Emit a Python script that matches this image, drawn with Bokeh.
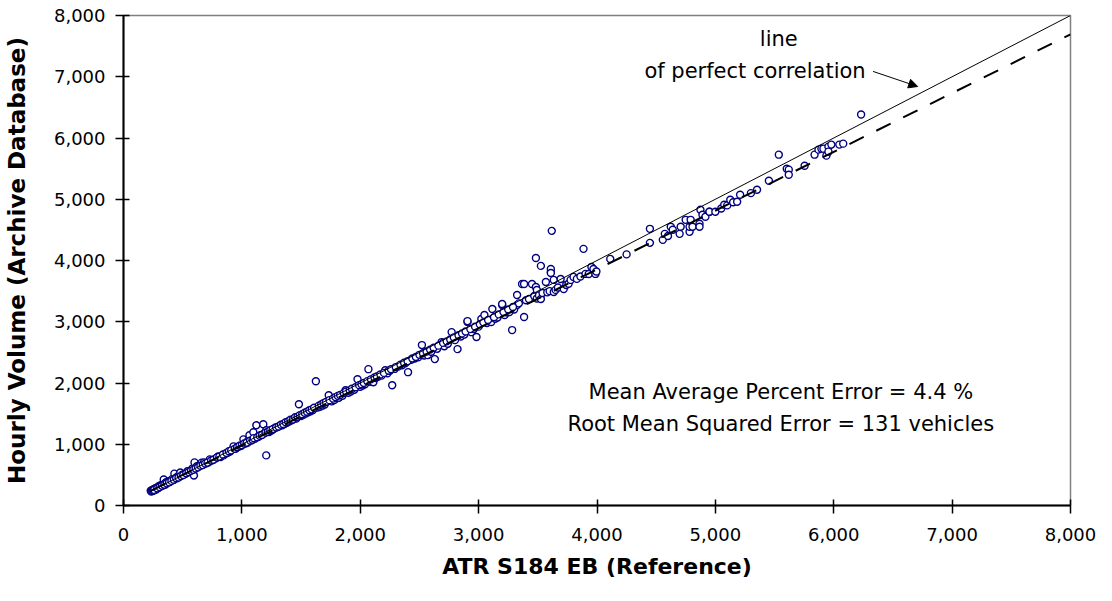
from bokeh.plotting import figure
from bokeh.models import Range1d, FixedTicker, NumeralTickFormatter, Label, Arrow, NormalHead, ColumnDataSource
from bokeh.embed import file_html
from bokeh.resources import INLINE

# ---------------- data ----------------
ref_x = [
    230, 235, 240, 245, 250, 255, 260, 265, 270, 275, 280, 290, 295, 300, 310, 315, 320, 330, 335, 340,
    350, 355, 360, 370, 380, 390, 400, 410, 420, 430, 440, 450, 460, 470, 480, 490, 500, 520, 540, 560,
    580, 595, 600, 620, 640, 660, 680, 700,
    720, 729, 750, 780, 800, 820, 846, 860, 880, 900, 930, 950, 970, 990, 1013, 1030, 1050, 1055, 1064, 1080,
    1097, 1110, 1122, 1140, 1160, 1181, 1190, 1206, 1206, 1230, 1250, 1265, 1280, 1300,
    1320, 1340, 1360, 1380, 1400, 1420, 1440, 1460, 1482, 1500, 1520, 1540, 1560, 1580, 1600, 1625, 1640, 1660,
    1680, 1700, 1720, 1734, 1760, 1780, 1800, 1820, 1850, 1876, 1900, 1920, 1950, 1977, 2000, 2020, 2040, 2069,
    2080, 2111, 2130, 2150, 2180, 2211, 2230, 2250, 2270, 2290,
    2320, 2353, 2380, 2404, 2430, 2460, 2490, 2521, 2540, 2571, 2600, 2630, 2650, 2688, 2710, 2740, 2772, 2800,
    2822, 2850, 2880, 2906, 2906, 2940, 2960, 2982, 3000, 3023, 3049, 3070, 3090, 3107, 3116, 3140, 3160, 3199,
    3199, 3220, 3240, 3260, 3275, 3283, 3300,
    3325, 3325, 3340, 3367, 3384, 3384, 3400, 3425, 3451, 3470, 3484, 3484, 3492, 3492, 3510, 3526, 3526, 3540,
    3568, 3580, 3600, 3610, 3610, 3610, 3618, 3635, 3635, 3650, 3670, 3693, 3719, 3740, 3760, 3777, 3802, 3830,
    3860, 3886, 3903, 3930, 3953, 3970, 3987, 3995,
    4112, 4250, 4447, 4447, 4556, 4573, 4600, 4623, 4640, 4698, 4707, 4749, 4782, 4782, 4791, 4807, 4866, 4866,
    4874, 4891, 4916, 4950, 4950, 5000, 5050, 5075, 5100, 5126, 5150, 5184, 5209, 5300, 5352, 5452, 5536, 5603,
    5620, 5620, 5754, 5838, 5871, 5896, 5913, 5938, 5955, 5955, 5980, 6047, 6080, 6231,
    260, 285, 305, 325, 345, 365, 385, 405, 425, 445, 465, 485, 505, 530, 550, 570, 590, 610, 630, 650,
    670, 690, 710, 740, 760, 790, 810, 840, 870, 890, 910, 940, 960, 980, 1000, 1020, 1040, 1070, 1090, 1100,
    1130, 1150, 1170, 1200, 1220, 1240, 1260, 1290, 1310, 1330, 1350, 1370, 1390, 1410, 1430, 1450, 1470, 1490,
    1510, 1530, 1550, 1570, 1590, 1610, 1650, 1670, 1690, 1710, 1740, 1770, 1790, 1810, 1830, 1860, 1880, 1910,
    1930, 1960, 1990, 2010, 2030, 2060, 2090, 2120, 2140, 2170, 2200, 2240, 2260, 2300, 2340, 2370, 2400, 2440,
    2470, 2500, 2530, 2560, 2590, 2620, 2660, 2700, 2730, 2760, 2790, 2830, 2860, 2890, 2930, 2970, 3010, 3040,
    3080, 3130, 3170, 3210, 3250, 3290,
]
archive_y = [
    240, 228, 250, 238, 262, 245, 270, 255, 282, 262, 290, 300, 285, 318, 305, 330, 325, 345, 330, 425,
    360, 342, 380, 372, 395, 385, 400, 430, 415, 520, 450, 445, 480, 470, 540, 492, 505, 515, 560, 548,
    600, 491, 704, 640, 655, 700, 704, 690,
    705, 753, 740, 770, 800, 790, 818, 845, 860, 880, 966, 930, 960, 970, 1080, 1010, 1030, 1064, 1146, 1060,
    1195, 1090, 1309, 1120, 1150, 1326, 1180, 1228, 818, 1200, 1225, 1244, 1270, 1280,
    1300, 1310, 1330, 1350, 1370, 1390, 1410, 1420, 1653, 1460, 1480, 1500, 1520, 1540, 1560, 2029, 1600, 1610,
    1630, 1650, 1700, 1800, 1700, 1720, 1750, 1760, 1790, 1882, 1840, 1860, 1890, 2062, 1940, 1960, 1980, 2226,
    2020, 2013, 2080, 2100, 2120, 2209, 2160, 2200, 1964, 2230,
    2270, 2291, 2320, 2177, 2380, 2400, 2420, 2619, 2450, 2455, 2510, 2390, 2560, 2668, 2600, 2640, 2831, 2700,
    2553, 2760, 2790, 2995, 3011, 2830, 2880, 2750, 2920, 3044, 3110, 2980, 3010, 2995, 3208, 3050, 3070, 3273,
    3290, 3110, 3150, 3160, 3208, 2864, 3200,
    3437, 3273, 3300, 3617, 3077, 3617, 3350, 3371, 3617, 3420, 3568, 4042, 3519, 3380, 3430, 3912, 3371, 3470,
    3650, 3480, 3500, 3813, 3862, 3797, 4484, 3683, 3486, 3520, 3560, 3699, 3535, 3600, 3620, 3683, 3732, 3700,
    3740, 4190, 3781, 3780, 3895, 3862, 3781, 3820,
    4026, 4100, 4517, 4288, 4337, 4435, 4400, 4550, 4501, 4435, 4550, 4664, 4468, 4550, 4664, 4550, 4599, 4550,
    4828, 4746, 4714, 4795, 4795, 4795, 4850, 4910, 4900, 4992, 4950, 4959, 5074, 5100, 5155, 5303, 5728, 5499,
    5483, 5401, 5548, 5728, 5810, 5826, 5826, 5712, 5859, 5777, 5892, 5892, 5908, 6383,
    255, 280, 300, 322, 338, 362, 378, 402, 420, 446, 458, 480, 498, 525, 545, 566, 582, 605, 622, 648,
    660, 685, 700, 735, 748, 785, 798, 832, 858, 885, 900, 925, 950, 975, 985, 1012, 1025, 1060, 1075, 1100,
    1115, 1140, 1150, 1190, 1205, 1230, 1245, 1275, 1290, 1318, 1330, 1360, 1372, 1400, 1405, 1440, 1450, 1475,
    1490, 1515, 1530, 1555, 1570, 1595, 1630, 1648, 1672, 1690, 1720, 1745, 1770, 1790, 1805, 1835, 1860, 1880,
    1905, 1930, 1965, 1980, 2000, 2030, 2060, 2090, 2105, 2140, 2165, 2200, 2225, 2260, 2300, 2330, 2355, 2400,
    2425, 2460, 2485, 2515, 2545, 2575, 2610, 2655, 2680, 2710, 2745, 2780, 2810, 2840, 2880, 2920, 2960, 2990,
    3030, 3075, 3120, 3160, 3200, 3240,
]

perfect_x = [230, 8000]
perfect_y = [230, 8000]
fit_x = [230, 8000]
fit_y = [240, 7692]

tick_values = [0, 1000, 2000, 3000, 4000, 5000, 6000, 7000, 8000]

x_title = "ATR S184 EB (Reference)"
y_title = "Hourly Volume (Archive Database)"
stat_lines = ["Mean Average Percent Error = 4.4 %", "Root Mean Squared Error = 131 vehicles"]
note_lines = ["line", "of perfect correlation"]

# ---------------- figure ----------------
FONT = "DejaVu Sans"

p = figure(width=1096, height=585, output_backend="svg", toolbar_location=None,
           x_range=Range1d(0, 8000), y_range=Range1d(0, 8000),
           min_border_left=118, min_border_right=26, min_border_top=15, min_border_bottom=80)
p.grid.visible = False
p.background_fill_color = "white"
p.border_fill_color = "white"
p.outline_line_color = "#808080"
p.outline_line_width = 1.5

for ax in (p.xaxis[0], p.yaxis[0]):
    ax.ticker = FixedTicker(ticks=tick_values)
    ax.formatter = NumeralTickFormatter(format="0,0")
    ax.minor_tick_line_color = None
    ax.major_tick_in = 6
    ax.major_tick_out = 8
    ax.major_tick_line_width = 1.5
    ax.major_tick_line_color = "black"
    ax.axis_line_width = 2
    ax.axis_line_color = "black"
    ax.major_label_text_font = FONT
    ax.major_label_text_font_size = "18px"
    ax.major_label_text_color = "black"
    ax.axis_label_text_font = FONT
    ax.axis_label_text_font_style = "bold"
    ax.axis_label_text_color = "black"

p.xaxis.axis_label = x_title
p.xaxis.axis_label_text_font_size = "22px"
p.xaxis.major_label_standoff = 14
p.xaxis.axis_label_standoff = 10

p.yaxis.axis_label = y_title
p.yaxis.axis_label_text_font_size = "23px"
p.yaxis.major_label_standoff = 10
p.yaxis.axis_label_standoff = 21

src = ColumnDataSource(dict(x=ref_x, y=archive_y))
p.scatter("x", "y", source=src, marker="circle", size=7,
          line_color="#000080", line_width=1.4, fill_color="white")

p.line(perfect_x, perfect_y, line_color="black", line_width=1)
p.line(fit_x, fit_y, line_color="black", line_width=2, line_dash="16 14")

# annotations
p.add_layout(Label(x=5536, y=7610, text=note_lines[0], text_align="center", text_baseline="middle",
                   text_font=FONT, text_font_size="21px", text_color="black"))
p.add_layout(Label(x=5335, y=7087, text=note_lines[1], text_align="center", text_baseline="middle",
                   text_font=FONT, text_font_size="21px", text_color="black"))
p.add_layout(Arrow(x_start=6332, y_start=7087, x_end=6709, y_end=6841,
                   line_color="black", line_width=1,
                   end=NormalHead(size=9, fill_color="black", line_color="black")))
p.add_layout(Label(x=5553, y=1850, text=stat_lines[0], text_align="center", text_baseline="middle",
                   text_font=FONT, text_font_size="21px", text_color="black"))
p.add_layout(Label(x=5553, y=1326, text=stat_lines[1], text_align="center", text_baseline="middle",
                   text_font=FONT, text_font_size="21px", text_color="black"))

open("out.html", "w").write(file_html(p, INLINE))
